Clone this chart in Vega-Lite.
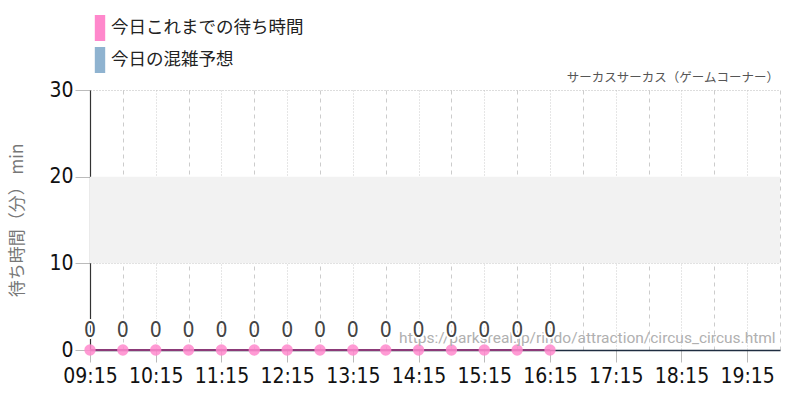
{
  "$schema": "https://vega.github.io/schema/vega-lite/v6.json",
  "width": 690,
  "height": 260,
  "autosize": {"type": "none"},
  "padding": {"left": 90, "top": 90, "right": 20, "bottom": 50},
  "background": "white",
  "datasets": {
    "wait": [
      {"time": "2024-01-01T09:15", "wait": 0, "series": "今日これまでの待ち時間"},
      {"time": "2024-01-01T09:45", "wait": 0, "series": "今日これまでの待ち時間"},
      {"time": "2024-01-01T10:15", "wait": 0, "series": "今日これまでの待ち時間"},
      {"time": "2024-01-01T10:45", "wait": 0, "series": "今日これまでの待ち時間"},
      {"time": "2024-01-01T11:15", "wait": 0, "series": "今日これまでの待ち時間"},
      {"time": "2024-01-01T11:45", "wait": 0, "series": "今日これまでの待ち時間"},
      {"time": "2024-01-01T12:15", "wait": 0, "series": "今日これまでの待ち時間"},
      {"time": "2024-01-01T12:45", "wait": 0, "series": "今日これまでの待ち時間"},
      {"time": "2024-01-01T13:15", "wait": 0, "series": "今日これまでの待ち時間"},
      {"time": "2024-01-01T13:45", "wait": 0, "series": "今日これまでの待ち時間"},
      {"time": "2024-01-01T14:15", "wait": 0, "series": "今日これまでの待ち時間"},
      {"time": "2024-01-01T14:45", "wait": 0, "series": "今日これまでの待ち時間"},
      {"time": "2024-01-01T15:15", "wait": 0, "series": "今日これまでの待ち時間"},
      {"time": "2024-01-01T15:45", "wait": 0, "series": "今日これまでの待ち時間"},
      {"time": "2024-01-01T16:15", "wait": 0, "series": "今日これまでの待ち時間"}
    ]
  },
  "encoding": {
    "x": {
      "field": "time",
      "type": "temporal",
      "title": null,
      "scale": {
        "domain": [
          {"year": 2024, "month": 1, "date": 1, "hours": 9, "minutes": 15},
          {"year": 2024, "month": 1, "date": 1, "hours": 19, "minutes": 45}
        ]
      },
      "axis": {
        "values": [
          {"year": 2024, "month": 1, "date": 1, "hours": 9, "minutes": 15},
          {"year": 2024, "month": 1, "date": 1, "hours": 9, "minutes": 45},
          {"year": 2024, "month": 1, "date": 1, "hours": 10, "minutes": 15},
          {"year": 2024, "month": 1, "date": 1, "hours": 10, "minutes": 45},
          {"year": 2024, "month": 1, "date": 1, "hours": 11, "minutes": 15},
          {"year": 2024, "month": 1, "date": 1, "hours": 11, "minutes": 45},
          {"year": 2024, "month": 1, "date": 1, "hours": 12, "minutes": 15},
          {"year": 2024, "month": 1, "date": 1, "hours": 12, "minutes": 45},
          {"year": 2024, "month": 1, "date": 1, "hours": 13, "minutes": 15},
          {"year": 2024, "month": 1, "date": 1, "hours": 13, "minutes": 45},
          {"year": 2024, "month": 1, "date": 1, "hours": 14, "minutes": 15},
          {"year": 2024, "month": 1, "date": 1, "hours": 14, "minutes": 45},
          {"year": 2024, "month": 1, "date": 1, "hours": 15, "minutes": 15},
          {"year": 2024, "month": 1, "date": 1, "hours": 15, "minutes": 45},
          {"year": 2024, "month": 1, "date": 1, "hours": 16, "minutes": 15},
          {"year": 2024, "month": 1, "date": 1, "hours": 16, "minutes": 45},
          {"year": 2024, "month": 1, "date": 1, "hours": 17, "minutes": 15},
          {"year": 2024, "month": 1, "date": 1, "hours": 17, "minutes": 45},
          {"year": 2024, "month": 1, "date": 1, "hours": 18, "minutes": 15},
          {"year": 2024, "month": 1, "date": 1, "hours": 18, "minutes": 45},
          {"year": 2024, "month": 1, "date": 1, "hours": 19, "minutes": 15},
          {"year": 2024, "month": 1, "date": 1, "hours": 19, "minutes": 45}
        ],
        "labelExpr": "minutes(datum.value) == 45 ? '' : timeFormat(datum.value, '%H:%M')",
        "labelFont": "DejaVu Sans Condensed",
        "labelFontSize": 21,
        "labelColor": "#111111",
        "labelPadding": 3,
        "labelFlush": false,
        "labelOverlap": false,
        "domainColor": "#1f2d40",
        "domainWidth": 1.5,
        "tickSize": 12,
        "tickColor": {
          "condition": {"test": "minutes(datum.value) == 45", "value": "transparent"},
          "value": "#bbbbbb"
        },
        "grid": true,
        "gridColor": "#cccccc",
        "gridDash": {
          "condition": {"test": "minutes(datum.value) == 45", "value": [4, 4]},
          "value": [1, 2]
        }
      }
    },
    "y": {
      "field": "wait",
      "type": "quantitative",
      "title": "待ち時間（分） min",
      "scale": {"domain": [0, 30]},
      "axis": {
        "values": [0, 10, 20, 30],
        "labelFont": "DejaVu Sans Condensed",
        "labelFontSize": 21,
        "labelColor": "#111111",
        "labelPadding": 2,
        "tickSize": 15,
        "tickColor": "#bbbbbb",
        "domainColor": "#333333",
        "domainWidth": 1.2,
        "grid": true,
        "gridColor": "#bbbbbb",
        "gridDash": [1, 2],
        "titleFont": "Noto Sans CJK JP",
        "titleFontSize": 17,
        "titleFontWeight": "normal",
        "titleColor": "#777777",
        "titlePadding": 22
      }
    }
  },
  "layer": [
    {
      "data": {"values": [{"lo": 10, "hi": 20}]},
      "mark": {"type": "rect", "color": "#f2f2f2"},
      "encoding": {
        "x": null,
        "y": {"field": "lo", "type": "quantitative"},
        "y2": {"field": "hi"}
      }
    },
    {
      "data": {"name": "wait"},
      "mark": {"type": "line", "color": "#8b3a78", "strokeWidth": 2}
    },
    {
      "data": {"name": "wait"},
      "mark": {"type": "circle", "size": 130, "opacity": 0.85},
      "encoding": {
        "color": {
          "field": "series",
          "type": "nominal",
          "scale": {
            "domain": ["今日これまでの待ち時間", "今日の混雑予想"],
            "range": ["#ff88cc", "#8fb3d0"]
          },
          "legend": {
            "title": null,
            "orient": "none",
            "legendX": -3,
            "legendY": -75,
            "symbolType": "M-0.4,-1H0.4V1H-0.4Z",
            "symbolSize": 676,
            "symbolStrokeWidth": 0,
            "symbolOpacity": 1,
            "labelFont": "Noto Sans CJK JP",
            "labelFontSize": 17.5,
            "labelColor": "#222222",
            "labelOffset": -2,
            "labelLimit": 400,
            "rowPadding": 6
          }
        }
      }
    },
    {
      "data": {"values": [{"name": "サーカスサーカス（ゲームコーナー）", "t": "2024-01-01T19:45", "v": 30}]},
      "mark": {
        "type": "text",
        "align": "right",
        "baseline": "bottom",
        "dx": -1,
        "dy": -5,
        "font": "Noto Sans CJK JP",
        "fontSize": 12.5,
        "color": "#555555"
      },
      "encoding": {
        "x": {"field": "t", "type": "temporal"},
        "y": {"field": "v", "type": "quantitative"},
        "text": {"field": "name"}
      }
    },
    {
      "data": {"values": [{"url": "https://parksreal.jp/rindo/attraction/circus_circus.html", "t": "2024-01-01T19:41", "v": 0}]},
      "mark": {
        "type": "text",
        "align": "right",
        "baseline": "bottom",
        "dy": -4,
        "font": "Roboto",
        "fontSize": 15.5,
        "color": "#b0b0b0"
      },
      "encoding": {
        "x": {"field": "t", "type": "temporal"},
        "y": {"field": "v", "type": "quantitative"},
        "text": {"field": "url"}
      }
    },
    {
      "data": {"name": "wait"},
      "mark": {
        "type": "text",
        "baseline": "middle",
        "dy": -19,
        "font": "DejaVu Sans Condensed",
        "fontSize": 21,
        "color": "white",
        "stroke": "white",
        "strokeWidth": 4
      },
      "encoding": {"text": {"field": "wait", "type": "quantitative"}}
    },
    {
      "data": {"name": "wait"},
      "mark": {
        "type": "text",
        "baseline": "middle",
        "dy": -19,
        "font": "DejaVu Sans Condensed",
        "fontSize": 21,
        "color": "#444444"
      },
      "encoding": {"text": {"field": "wait", "type": "quantitative"}}
    }
  ],
  "config": {
    "view": {"stroke": null}
  }
}
